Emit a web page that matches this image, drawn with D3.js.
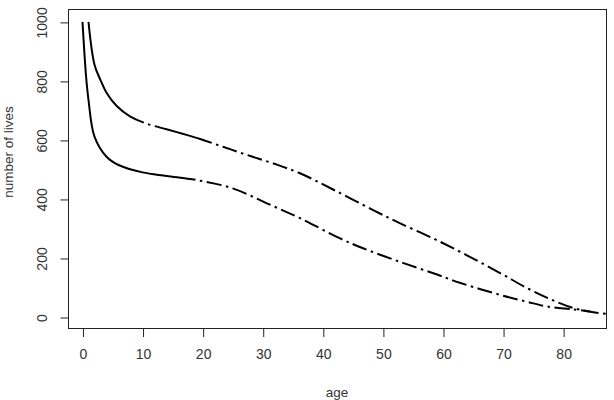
<!DOCTYPE html>
<html>
<head>
<meta charset="utf-8">
<script src="https://cdn.jsdelivr.net/npm/d3@7/dist/d3.min.js"></script>
<style>
  html, body { margin: 0; padding: 0; background: #fff; }
  svg { display: block; }
  text { font-family: "Liberation Sans", Arial, sans-serif; fill: #333; }
</style>
</head>
<body>
<svg id="chart" width="614" height="400"></svg>
<script>
// ---- data ----
const upperAges   = [1, 2, 3, 4, 5.7, 7.9, 10.7, 14, 16.8, 19.6, 23.5, 27.4, 31.8, 36.2, 41.7, 48.3, 52.8, 58.3, 63.9, 69.5, 74, 77.8, 81.6, 84.8, 87.6];
const upperLives  = [1000, 855, 803, 760, 715, 680, 655, 636, 620, 603, 576, 549, 520, 487, 432, 363, 318, 267, 210, 149, 98, 61, 31, 17, 10];
const lowerAges   = [0, 0.6, 1.0, 2.0, 4.0, 6.0, 10, 14, 19, 25, 30.6, 36.2, 42.8, 46.7, 52.8, 58.4, 62.8, 69.5, 73.9, 77.2, 81.6, 84.5];
const lowerLives  = [1000, 815, 736, 611, 543, 515, 490, 478, 464, 436, 386, 335, 267, 233, 187, 148, 116, 75, 52, 36, 26, 19];
const upperSolidBreaks = [10.2, 21.5];   // ages where solid runs end
const lowerSolidBreaks = [18.8];
const xTicks = [0, 10, 20, 30, 40, 50, 60, 70, 80];
const yTicks = [0, 200, 400, 600, 800, 1000];
const xTitle = "age";
const yTitle = "number of lives";

const svg = d3.select("#chart");
const boxL = 68.5, boxR = 606.5, boxT = 9.5, boxB = 328.5;

const x = d3.scaleLinear().domain([-2.41, 87.3]).range([68, 607]);
const y = d3.scaleLinear().domain([-40.7, 1042]).range([329, 9.5]);

// clip
svg.append("clipPath").attr("id", "clip").append("rect")
  .attr("x", boxL).attr("y", boxT).attr("width", boxR - boxL).attr("height", boxB - boxT);

const line = d3.line().x(d => x(d[0])).y(d => y(d[1])).curve(d3.curveCatmullRom.alpha(0.5));

function lenAtX(path, px) {
  let lo = 0, hi = path.getTotalLength();
  for (let i = 0; i < 40; i++) {
    const mid = (lo + hi) / 2;
    if (path.getPointAtLength(mid).x < px) lo = mid; else hi = mid;
  }
  return (lo + hi) / 2;
}

function drawCurve(ages, lives, breaks) {
  const data = ages.map((a, i) => [a, lives[i]]);
  const p = svg.append("path")
    .attr("d", line(data))
    .attr("fill", "none")
    .attr("stroke", "#000")
    .attr("stroke-width", 2)
    .attr("clip-path", "url(#clip)");
  const node = p.node();
  const total = node.getTotalLength();
  const g = 4.5, dot = 2.5, dash = 15;
  const arr = [];
  let pos = 0;
  breaks.forEach(a => {
    const L = lenAtX(node, x(a));
    arr.push(L - pos, g, dot, g);
    pos = L + 2 * g + dot;
  });
  while (pos < total + 50) {
    arr.push(dash, g, dot, g);
    pos += dash + 2 * g + dot;
  }
  arr.push(0, 1000);
  p.attr("stroke-dasharray", arr.join(","));
}

drawCurve(upperAges, upperLives, upperSolidBreaks);
drawCurve(lowerAges, lowerLives, lowerSolidBreaks);

// box
svg.append("rect")
  .attr("x", boxL).attr("y", boxT).attr("width", boxR - boxL).attr("height", boxB - boxT)
  .attr("fill", "none").attr("stroke", "#222").attr("stroke-width", 1);

// x axis
const xAxis = d3.axisBottom(x).tickValues(xTicks).tickSize(8).tickPadding(12).tickFormat(d3.format("d"));
const gx = svg.append("g").attr("transform", `translate(0.5,${boxB + 0.5})`).call(xAxis);
gx.select(".domain").remove();
gx.selectAll(".tick line").attr("stroke", "#222");
gx.selectAll(".tick text").attr("font-size", 14).style("font-family", '"Liberation Sans", Arial, sans-serif').attr("fill", "#333");

// y axis
const yAxis = d3.axisLeft(y).tickValues(yTicks).tickSize(8).tickFormat(d3.format("d"));
const gy = svg.append("g").attr("transform", `translate(${boxL},0.5)`).call(yAxis);
gy.select(".domain").remove();
gy.selectAll(".tick line").attr("stroke", "#222");
gy.selectAll(".tick text")
  .attr("font-size", 14).style("font-family", '"Liberation Sans", Arial, sans-serif').attr("fill", "#333")
  .attr("x", null).attr("dy", null)
  .attr("text-anchor", "middle")
  .attr("transform", "translate(-22,0) rotate(-90)");

// titles
svg.append("text").attr("x", 337).attr("y", 397).attr("text-anchor", "middle")
  .attr("font-size", 13.5).text(xTitle);
svg.append("text").attr("transform", "translate(13,152) rotate(-90)").attr("text-anchor", "middle")
  .attr("font-size", 13.5).text(yTitle);
</script>
</body>
</html>
